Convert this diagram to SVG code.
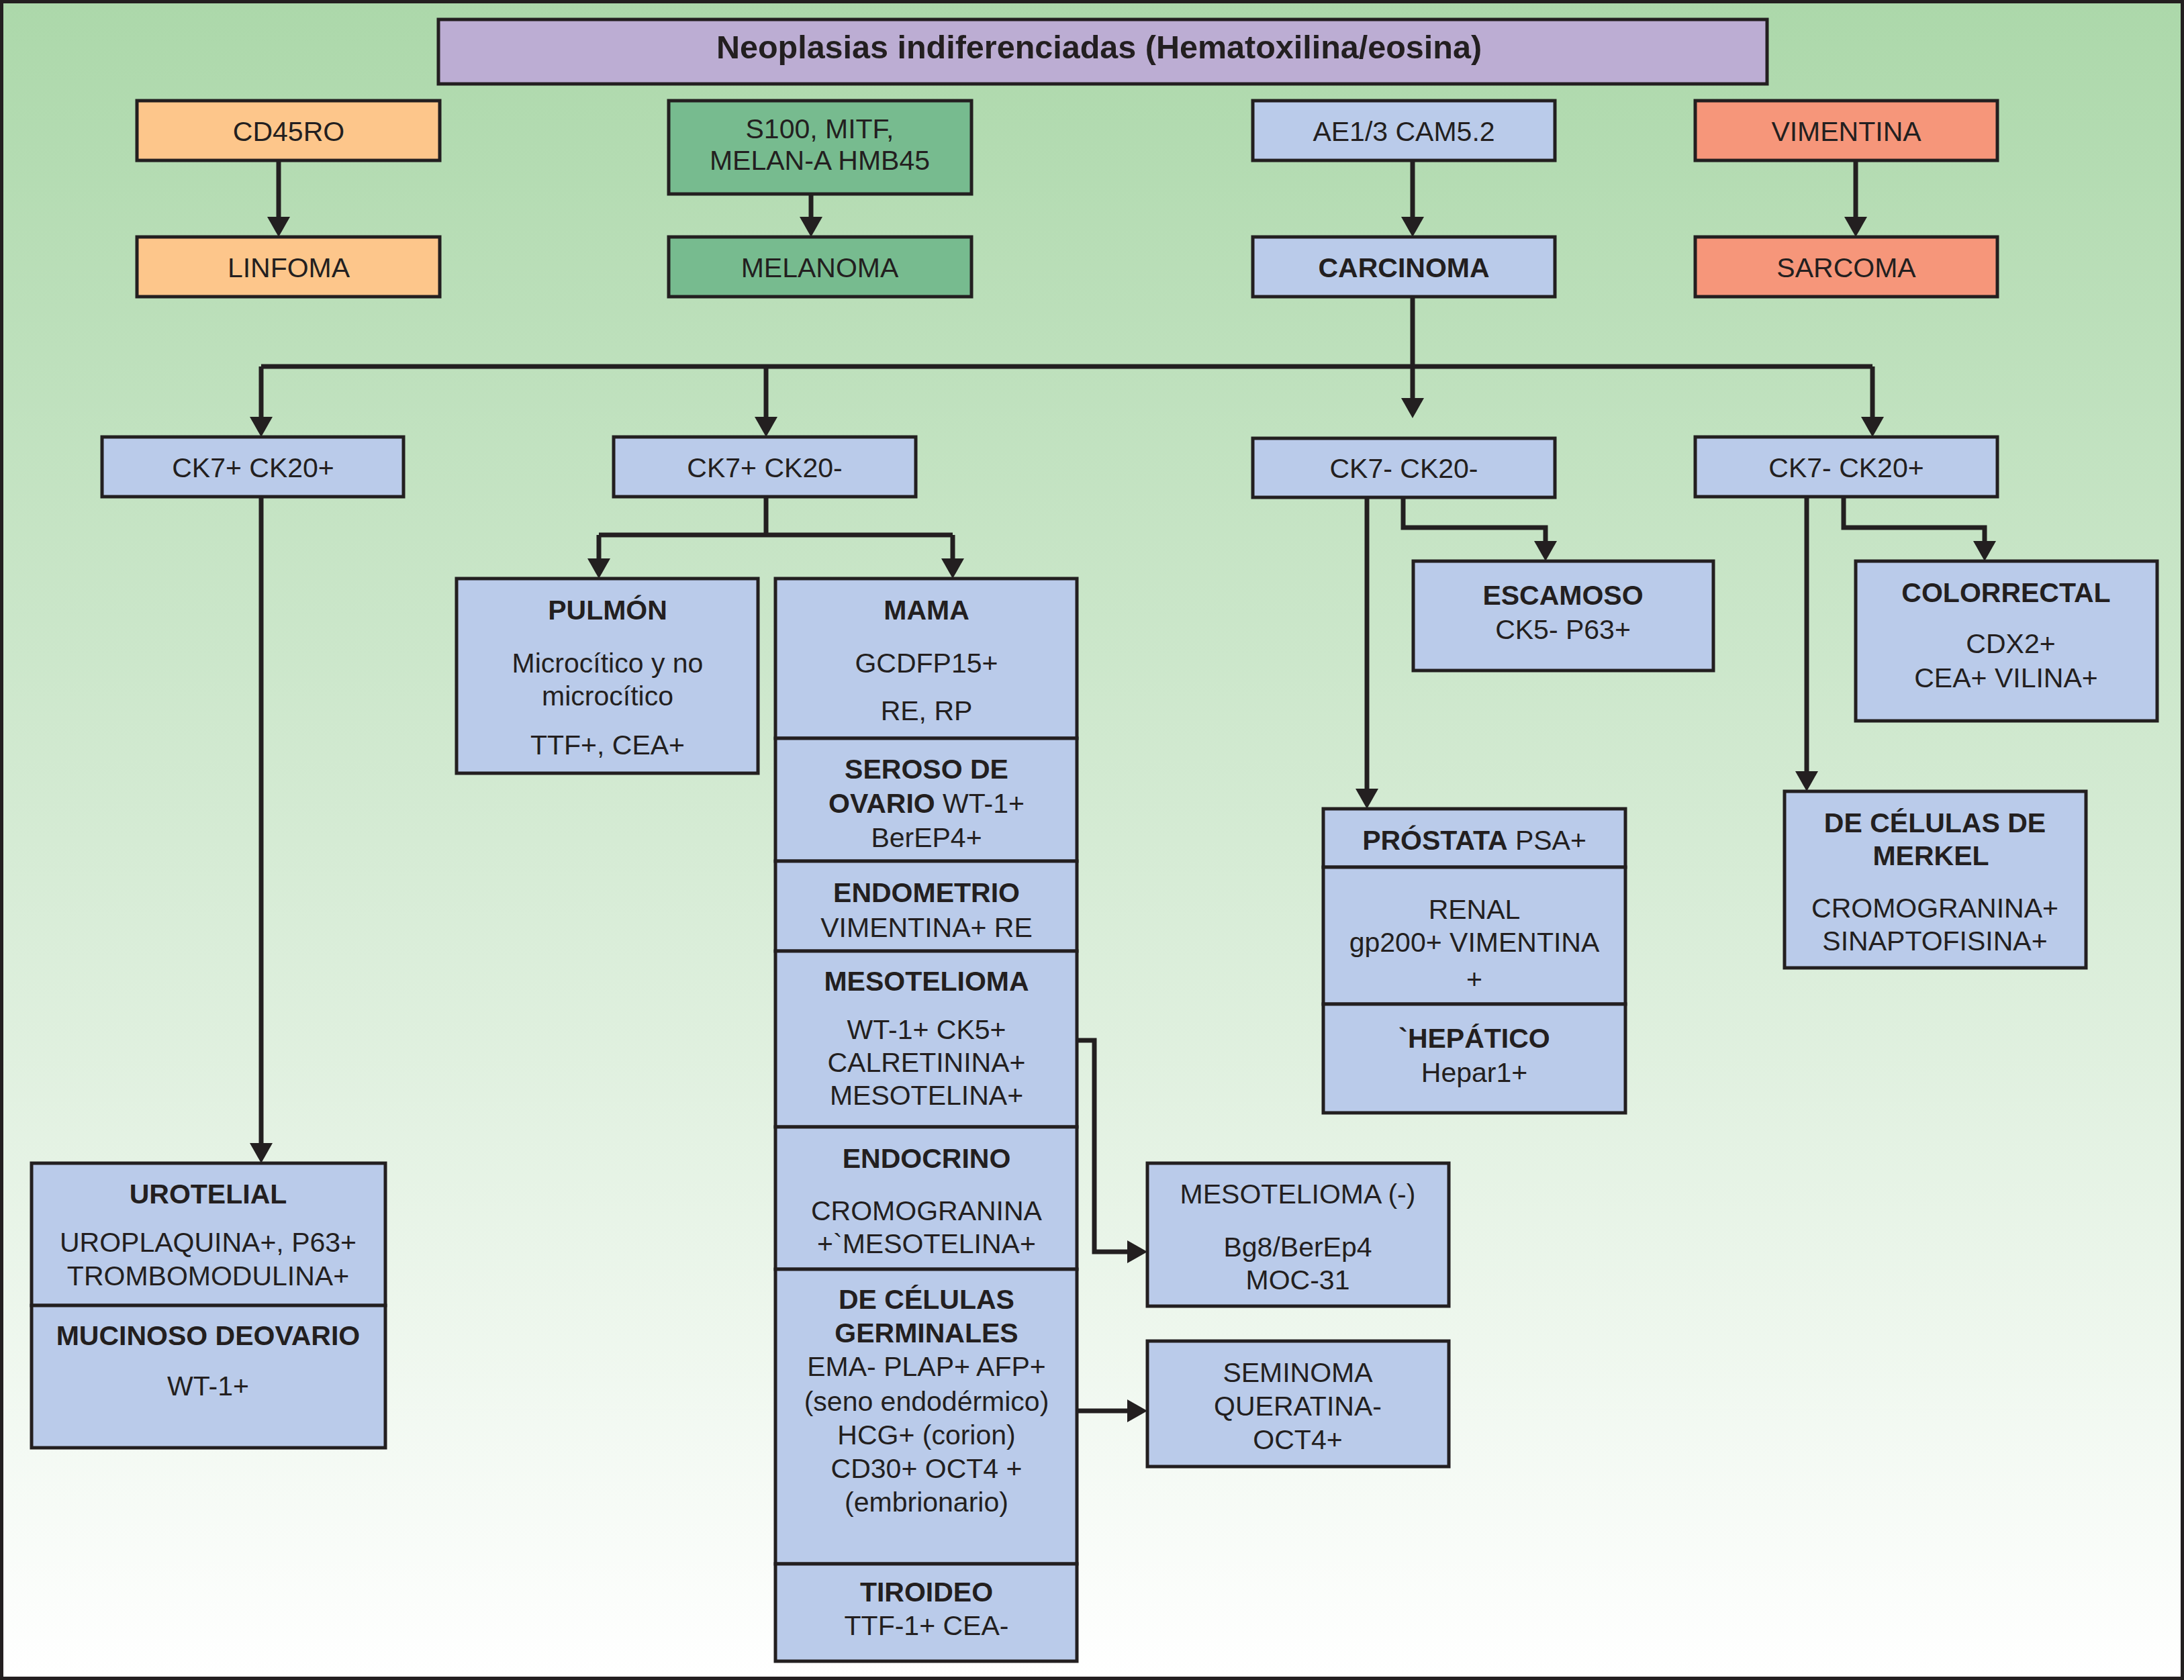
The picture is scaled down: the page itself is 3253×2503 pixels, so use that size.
<svg xmlns="http://www.w3.org/2000/svg" width="3253" height="2503" viewBox="0 0 3253 2503">
<defs>
<linearGradient id="bg" x1="0" y1="0" x2="0" y2="1">
<stop offset="0" stop-color="#acd8aa"/>
<stop offset="0.5" stop-color="#d5ebd4"/>
<stop offset="1" stop-color="#ffffff"/>
</linearGradient>
<marker id="ah" viewBox="0 0 30 34" refX="22" refY="17" markerWidth="30" markerHeight="34" markerUnits="userSpaceOnUse" orient="auto">
<path d="M0,0 L30,17 L0,34 Z" fill="#231f20"/>
</marker>
<style>
.bx{stroke:#231f20;stroke-width:5}
.pu{fill:#bcadd3}.or{fill:#fdc68b}.gr{fill:#77bb8f}.bl{fill:#bacbea}.sa{fill:#f6967a}
.t{font-family:"Liberation Sans",Arial,sans-serif;font-size:41px;fill:#231f20;text-anchor:middle}
.b{font-weight:bold}
.ttl{font-size:48.5px;font-weight:bold}
.c{fill:none;stroke:#231f20;stroke-width:7;stroke-linejoin:miter}
.a{marker-end:url(#ah)}
</style>
</defs>
<rect x="2.5" y="2.5" width="3248" height="2498" fill="url(#bg)" stroke="#231f20" stroke-width="5"/>

<g id="connectors">
<path class="c a" d="M415,239 V345"/>
<path class="c a" d="M1208,289 V345"/>
<path class="c a" d="M2104,239 V345"/>
<path class="c a" d="M2764,239 V345"/>
<path class="c a" d="M2104,442 V615"/>
<path class="c" d="M389,546 H2789"/>
<path class="c a" d="M389,546 V643"/>
<path class="c a" d="M1141,546 V643"/>
<path class="c a" d="M2789,546 V643"/>
<path class="c" d="M1141,740 V797 M892,797 H1419"/>
<path class="c a" d="M892,797 V854"/>
<path class="c a" d="M1419,797 V854"/>
<path class="c a" d="M389,740 V1725"/>
<path class="c a" d="M2036,741 V1197"/>
<path class="c a" d="M2090,741 V786 H2302 V828"/>
<path class="c a" d="M2691,740 V1171"/>
<path class="c a" d="M2746,740 V786 H2956 V828"/>
<path class="c a" d="M1604,1550 H1630 V1865 H1701"/>
<path class="c a" d="M1604,2102 H1701"/>
</g>

<g id="n-title"><rect class="bx pu" x="653" y="29" width="1979" height="96"/>
<text class="t ttl" x="1637" y="87">Neoplasias indiferenciadas (Hematoxilina/eosina)</text></g>

<g id="n-cd45ro"><rect class="bx or" x="204" y="150" width="451" height="89"/>
<text class="t" x="430" y="210">CD45RO</text></g>
<g id="n-linfoma"><rect class="bx or" x="204" y="353" width="451" height="89"/>
<text class="t" x="430" y="413">LINFOMA</text></g>

<g id="n-s100"><rect class="bx gr" x="996" y="150" width="451" height="139"/>
<text class="t" x="1221" y="206">S100, MITF,</text>
<text class="t" x="1221" y="253">MELAN-A HMB45</text></g>
<g id="n-melanoma"><rect class="bx gr" x="996" y="353" width="451" height="89"/>
<text class="t" x="1221" y="413">MELANOMA</text></g>

<g id="n-ae13"><rect class="bx bl" x="1866" y="150" width="450" height="89"/>
<text class="t" x="2091" y="210">AE1/3 CAM5.2</text></g>
<g id="n-carcinoma"><rect class="bx bl" x="1866" y="353" width="450" height="89"/>
<text class="t b" x="2091" y="413">CARCINOMA</text></g>

<g id="n-vimentina"><rect class="bx sa" x="2525" y="150" width="450" height="89"/>
<text class="t" x="2750" y="210">VIMENTINA</text></g>
<g id="n-sarcoma"><rect class="bx sa" x="2525" y="353" width="450" height="89"/>
<text class="t" x="2750" y="413">SARCOMA</text></g>

<g id="n-ck7p-ck20p"><rect class="bx bl" x="152" y="651" width="449" height="89"/>
<text class="t" x="377" y="711">CK7+ CK20+</text></g>
<g id="n-ck7p-ck20n"><rect class="bx bl" x="914" y="651" width="450" height="89"/>
<text class="t" x="1139" y="711">CK7+ CK20-</text></g>
<g id="n-ck7n-ck20n"><rect class="bx bl" x="1866" y="653" width="450" height="88"/>
<text class="t" x="2091" y="712">CK7- CK20-</text></g>
<g id="n-ck7n-ck20p"><rect class="bx bl" x="2525" y="651" width="450" height="89"/>
<text class="t" x="2750" y="711">CK7- CK20+</text></g>

<g id="n-pulmon"><rect class="bx bl" x="680" y="862" width="449" height="290"/>
<text class="t b" x="905" y="923">PULMÓN</text>
<text class="t" x="905" y="1002">Microcítico y no</text>
<text class="t" x="905" y="1051">microcítico</text>
<text class="t" x="905" y="1124">TTF+, CEA+</text></g>

<g id="n-mama"><rect class="bx bl" x="1155" y="862" width="449" height="238"/>
<text class="t b" x="1380" y="923">MAMA</text>
<text class="t" x="1380" y="1002">GCDFP15+</text>
<text class="t" x="1380" y="1073">RE, RP</text></g>
<g id="n-seroso"><rect class="bx bl" x="1155" y="1100" width="449" height="183"/>
<text class="t b" x="1380" y="1160">SEROSO DE</text>
<text class="t" x="1380" y="1211"><tspan class="b">OVARIO</tspan>  WT-1+</text>
<text class="t" x="1380" y="1262">BerEP4+</text></g>
<g id="n-endometrio"><rect class="bx bl" x="1155" y="1283" width="449" height="134"/>
<text class="t b" x="1380" y="1344">ENDOMETRIO</text>
<text class="t" x="1380" y="1396">VIMENTINA+ RE</text></g>
<g id="n-mesotelioma"><rect class="bx bl" x="1155" y="1417" width="449" height="262"/>
<text class="t b" x="1380" y="1476">MESOTELIOMA</text>
<text class="t" x="1380" y="1548">WT-1+ CK5+</text>
<text class="t" x="1380" y="1597">CALRETININA+</text>
<text class="t" x="1380" y="1646">MESOTELINA+</text></g>
<g id="n-endocrino"><rect class="bx bl" x="1155" y="1679" width="449" height="212"/>
<text class="t b" x="1380" y="1740">ENDOCRINO</text>
<text class="t" x="1380" y="1818">CROMOGRANINA</text>
<text class="t" x="1380" y="1867">+`MESOTELINA+</text></g>
<g id="n-germinales"><rect class="bx bl" x="1155" y="1891" width="449" height="439"/>
<text class="t b" x="1380" y="1950">DE CÉLULAS</text>
<text class="t b" x="1380" y="2000">GERMINALES</text>
<text class="t" x="1380" y="2050">EMA- PLAP+ AFP+</text>
<text class="t" x="1380" y="2102">(seno endodérmico)</text>
<text class="t" x="1380" y="2152">HCG+ (corion)</text>
<text class="t" x="1380" y="2202">CD30+ OCT4 +</text>
<text class="t" x="1380" y="2252">(embrionario)</text></g>
<g id="n-tiroideo"><rect class="bx bl" x="1155" y="2330" width="449" height="145"/>
<text class="t b" x="1380" y="2386">TIROIDEO</text>
<text class="t" x="1380" y="2436">TTF-1+ CEA-</text></g>

<g id="n-escamoso"><rect class="bx bl" x="2105" y="836" width="447" height="163"/>
<text class="t b" x="2328" y="901">ESCAMOSO</text>
<text class="t" x="2328" y="952">CK5- P63+</text></g>

<g id="n-colorrectal"><rect class="bx bl" x="2764" y="836" width="449" height="238"/>
<text class="t b" x="2988" y="897">COLORRECTAL</text>
<text class="t" x="2995" y="973">CDX2+</text>
<text class="t" x="2988" y="1024">CEA+ VILINA+</text></g>

<g id="n-prostata"><rect class="bx bl" x="1971" y="1205" width="450" height="87"/>
<text class="t" x="2196" y="1266"><tspan class="b">PRÓSTATA</tspan> PSA+</text></g>
<g id="n-renal"><rect class="bx bl" x="1971" y="1292" width="450" height="204"/>
<text class="t" x="2196" y="1369">RENAL</text>
<text class="t" x="2196" y="1418">gp200+ VIMENTINA</text>
<text class="t" x="2196" y="1473">+</text></g>
<g id="n-hepatico"><rect class="bx bl" x="1971" y="1496" width="450" height="162"/>
<text class="t b" x="2196" y="1561">`HEPÁTICO</text>
<text class="t" x="2196" y="1612">Hepar1+</text></g>

<g id="n-merkel"><rect class="bx bl" x="2658" y="1179" width="449" height="263"/>
<text class="t b" x="2882" y="1240">DE CÉLULAS DE</text>
<text class="t b" x="2876" y="1289">MERKEL</text>
<text class="t" x="2882" y="1367">CROMOGRANINA+</text>
<text class="t" x="2882" y="1416">SINAPTOFISINA+</text></g>

<g id="n-urotelial"><rect class="bx bl" x="47" y="1733" width="527" height="212"/>
<text class="t b" x="310" y="1793">UROTELIAL</text>
<text class="t" x="310" y="1865">UROPLAQUINA+, P63+</text>
<text class="t" x="310" y="1915">TROMBOMODULINA+</text></g>
<g id="n-mucinoso"><rect class="bx bl" x="47" y="1945" width="527" height="212"/>
<text class="t b" x="310" y="2004">MUCINOSO DEOVARIO</text>
<text class="t" x="310" y="2079">WT-1+</text></g>

<g id="n-mesotelioma-neg"><rect class="bx bl" x="1709" y="1733" width="449" height="213"/>
<text class="t" x="1933" y="1793">MESOTELIOMA (-)</text>
<text class="t" x="1933" y="1872">Bg8/BerEp4</text>
<text class="t" x="1933" y="1921">MOC-31</text></g>

<g id="n-seminoma"><rect class="bx bl" x="1709" y="1998" width="449" height="187"/>
<text class="t" x="1933" y="2059">SEMINOMA</text>
<text class="t" x="1933" y="2109">QUERATINA-</text>
<text class="t" x="1933" y="2159">OCT4+</text></g>
</svg>
